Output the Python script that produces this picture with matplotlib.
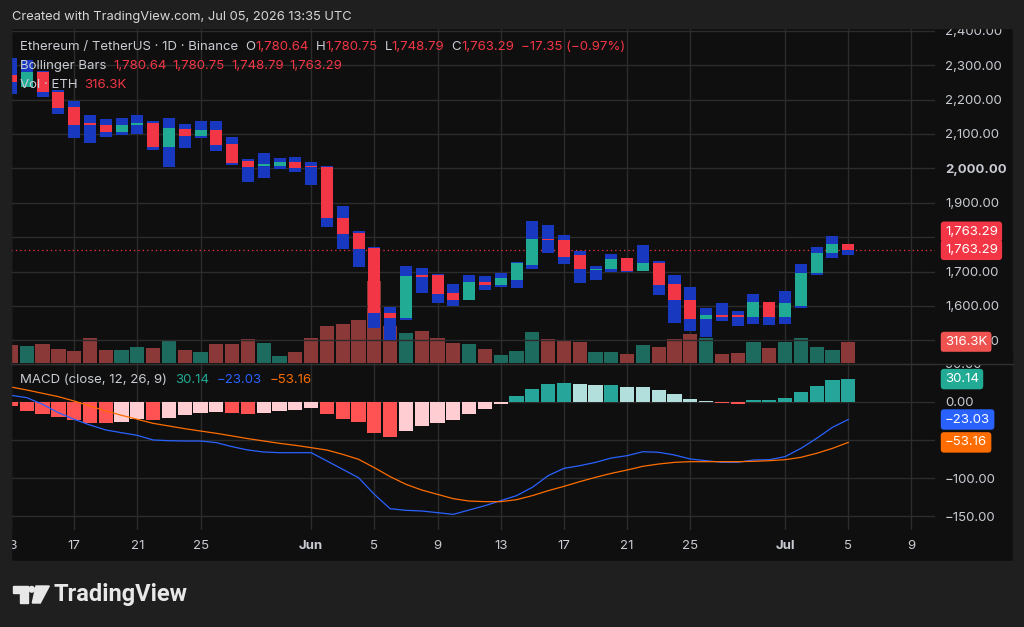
import matplotlib
matplotlib.use("Agg")
import matplotlib.pyplot as plt
import matplotlib.dates as mdates
from matplotlib.patches import Rectangle, Polygon, Circle
import numpy as np
import pandas as pd

W, H = 1024, 627
FONT = ["Inter", "DejaVu Sans"]
plt.rcParams["font.family"] = FONT

# ---- data: ETH/USDT daily, May 13 .. Jul 5 2026 ----
days = pd.date_range("2026-05-13", "2026-07-05", freq="D")

open_ = [2271, 2237, 2280, 2222, 2178, 2131, 2126, 2106, 2127, 2132,
         2062, 2115, 2094, 2112, 2071, 2022, 2008, 2007, 2019, 2007,
         2004, 1856, 1812, 1770, 1580, 1565, 1689, 1690, 1638, 1617,
         1670, 1661, 1676, 1719, 1796, 1792, 1748, 1704, 1708, 1740,
         1702, 1725, 1664, 1617, 1562, 1574, 1573, 1568, 1612, 1568,
         1600, 1696, 1754, 1780.64]
high = [2321, 2315, 2282, 2228, 2196, 2155, 2144, 2147, 2155, 2138,
        2147, 2129, 2138, 2138, 2091, 2027, 2045, 2030, 2033, 2019,
        2007, 1891, 1818, 1772, 1597, 1716, 1710, 1693, 1664, 1690,
        1687, 1696, 1728, 1847, 1835, 1806, 1760, 1716, 1751, 1740,
        1777, 1731, 1690, 1655, 1594, 1609, 1585, 1635, 1612, 1644,
        1722, 1772, 1803, 1780.75]
low = [2215, 2237, 2207, 2158, 2088, 2074, 2091, 2097, 2100, 2053,
       2004, 2059, 2088, 2051, 2010, 1960, 1972, 1998, 1990, 1952,
       1830, 1766, 1713, 1536, 1501, 1559, 1638, 1609, 1600, 1617,
       1647, 1655, 1652, 1708, 1754, 1722, 1667, 1676, 1699, 1699,
       1702, 1632, 1551, 1527, 1510, 1556, 1542, 1548, 1545, 1548,
       1594, 1690, 1740, 1748.79]
close = [2252, 2280, 2222, 2176, 2126, 2127, 2106, 2126, 2131, 2062,
         2117, 2094, 2112, 2068, 2016, 2004, 2012, 2019, 2001, 2003,
         1856, 1809, 1766, 1580, 1565, 1687, 1684, 1635, 1617, 1670,
         1661, 1681, 1725, 1795, 1791, 1742, 1708, 1708, 1737, 1702,
         1725, 1661, 1617, 1562, 1574, 1569, 1568, 1612, 1568, 1609,
         1696, 1754, 1780, 1763.29]
volume_k = [271, 256, 286, 211, 181, 377, 196, 196, 241, 226,
            346, 196, 166, 286, 286, 361, 301, 105, 166, 377,
            557, 587, 648, 1235, 557, 452, 482, 377, 301, 286,
            211, 120, 181, 467, 361, 346, 316, 166, 166, 136,
            271, 241, 361, 437, 377, 136, 151, 316, 226, 316,
            377, 241, 196, 316.3]
macd_hist = [-5.3, -11.8, -15.4, -19.7, -24, -27, -27.5, -26, -22.8, -24,
             -20.6, -17.5, -14, -12.7, -15, -15.5, -14, -12.3, -11, -8.3,
             -16.2, -22, -26.3, -40.4, -46, -38, -31.6, -27, -23.7, -15.4,
             -8.8, -2.2, 7.5, 17.5, 23.7, 25.4, 23.2, 21.9, 22.4, 20.2,
             20.0, 16.2, 11, 3.5, 0.9, -1.3, -2.2, 2.2, 2.4, 5.7,
             13.2, 21.5, 28.5, 30.14]
macd_line = [8.8, 5.7, -3.1, -14, -22.8, -30.3, -36.8, -40.4, -43.9, -50,
             -50.9, -51.3, -51.3, -53.5, -58.8, -63.2, -65.8, -66.7, -66.7, -66.7,
             -77.6, -88.6, -99.6, -121.5, -140.4, -142.5, -143.4, -145.6, -147.8, -142.1,
             -136.4, -129.8, -123.2, -112.3, -96.9, -87.3, -83.8, -79.4, -73.7, -70.6,
             -65.4, -66.2, -69.7, -75, -77.2, -79.4, -79.4, -76.3, -75.9, -71.9,
             -61, -47.8, -33.3, -23.03]
signal_line = [19.7, 15.8, 11.4, 7.0, 1.3, -5.3, -11.8, -17.5, -22.8, -28.1,
               -31.6, -35.1, -38.2, -41.2, -44.7, -48.2, -51.3, -54.4, -57, -60.1,
               -63.2, -68.9, -75.4, -86.4, -98.2, -108.3, -115.8, -121.5, -127.2, -130.3,
               -131.1, -131.1, -128.5, -123.2, -116.7, -111, -104.8, -99.1, -93.9, -89.5,
               -84.6, -81.6, -79.4, -78.5, -78.5, -78.5, -78.5, -78.1, -77.2, -75.9,
               -72.8, -67.5, -61, -53.16]

date_ticks = ["2026-05-13", "2026-05-17", "2026-05-21", "2026-05-25", "2026-06-01",
              "2026-06-05", "2026-06-09", "2026-06-13", "2026-06-17", "2026-06-21",
              "2026-06-25", "2026-07-01", "2026-07-05", "2026-07-09"]
date_labels = ["13", "17", "21", "25", "Jun", "5", "9", "13", "17", "21", "25", "Jul", "5", "9"]
price_ticks = [1500, 1600, 1700, 1800, 1900, 2000, 2100, 2200, 2300, 2400]
price_hidden = [1800]          # sits under the last-price tags
macd_ticks = [50, 0, -50, -100, -150]
macd_hidden = [-50]            # sits under the signal tag

# ---- colours ----
FRAME = "#1f1f1f"
PANEL = "#0f0f0f"
GRID = "#2c2c2c"
TXT = "#c9ccd3"
RED = "#f23645"
GREEN = "#22ab94"
BLUE_BAR = "#1838c0"
VOL_UP = "#1d6a5f"
VOL_DN = "#8a3838"
MACD_BLUE = "#2962ff"
SIG_ORANGE = "#ff6d00"


def rect(x0, y0, x1, y1):
    return [x0 / W, 1 - y1 / H, (x1 - x0) / W, (y1 - y0) / H]


def neg(s):
    return s.replace("-", "\u2212")


x = mdates.date2num(days)
o, h, l, c = map(np.array, (open_, high, low, close))
up = c >= o

fig = plt.figure(figsize=(W / 100, H / 100), dpi=100, facecolor=FRAME)

bg = fig.add_axes([0, 0, 1, 1])
bg.set_xlim(0, W)
bg.set_ylim(H, 0)
bg.axis("off")
bg.add_patch(Rectangle((11, 28), 1002, 533, color=PANEL))

ax_vol = fig.add_axes(rect(11, 28, 935, 363), facecolor="none")
ax = fig.add_axes(rect(11, 28, 935, 363), sharex=ax_vol, facecolor="none")
ax_m = fig.add_axes(rect(11, 363, 935, 530), sharex=ax_vol, facecolor="none")

# volume (behind candles)
ax_vol.bar(x, volume_k, width=0.9, color=np.where(up, VOL_UP, VOL_DN), zorder=1)
ax_vol.set_ylim(0, 335 / 21 * volume_k[-1])

# bollinger-style candles: blue high-low block, coloured open-close body
ax.bar(x, h - l, bottom=l, width=0.76, color=BLUE_BAR, zorder=2)
body_lo = np.minimum(o, c)
ax.bar(x, np.maximum(np.abs(c - o), 4), bottom=body_lo, width=0.76,
       color=np.where(up, GREEN, RED), zorder=3)
ax.axhline(c[-1], color=RED, lw=0.9, ls=(0, (1, 2.5)), zorder=1)
ax.set_ylim(1434.3, 2408)

# MACD
hist = np.array(macd_hist)
prev = np.concatenate([[hist[0] + 1], hist[:-1]])
hcol = np.where(hist >= 0, np.where(hist > prev, "#26a69a", "#b2dfdb"),
                np.where(hist > prev, "#ffcdd2", "#ff5252"))
ax_m.bar(x, hist, width=0.9, color=hcol, zorder=2)
ax_m.plot(x, macd_line, color=MACD_BLUE, lw=0.9, zorder=3)
ax_m.plot(x, signal_line, color=SIG_ORANGE, lw=0.9, zorder=3)
ax_m.set_ylim(-168.4, 51.3)

# axes styling
xt = mdates.date2num(pd.to_datetime(date_ticks))
ax_m.set_xlim(x[0] + 0.19, x[0] + 58.49)
ax_m.set_xticks(xt)
ax_m.set_xticklabels(date_labels)
for t in ax_m.get_xticklabels():
    if t.get_text() in ("Jun", "Jul"):
        t.set_fontweight("bold")

for a in (ax_vol, ax, ax_m):
    for s in a.spines.values():
        s.set_visible(False)
    a.tick_params(length=0, colors=TXT, labelsize=9.5)
    a.set_axisbelow(True)

ax_vol.set_yticks([])
ax_vol.tick_params(labelbottom=False)
ax_vol.grid(axis="x", color=GRID, lw=1)
ax.tick_params(labelbottom=False, labelleft=False, labelright=True, pad=7.2)
ax.yaxis.tick_right()
ax.set_yticks(price_ticks)
ax.set_yticklabels(["" if v in price_hidden else f"{v:,.2f}" for v in price_ticks])
for t in ax.get_yticklabels():
    if t.get_text() == "2,000.00":
        t.set_fontweight("bold")
ax.grid(axis="y", color=GRID, lw=1)

ax_m.yaxis.tick_right()
ax_m.tick_params(labelleft=False, labelright=True, pad=7.2)
ax_m.tick_params(axis="x", pad=7.5)
ax_m.set_yticks(macd_ticks)
ax_m.set_yticklabels(["" if v in macd_hidden else neg(f"{v:.2f}") for v in macd_ticks])
ax_m.grid(color=GRID, lw=1)


# right-hand value tags (drawn from the top axes so they cover tick labels)
def tag(a, ref, yval, text, color, dy=0):
    a.annotate(text, xy=(1.0, yval), xycoords=ref.get_yaxis_transform(),
               xytext=(7.2, dy), textcoords="offset points", ha="left", va="center",
               fontsize=9.5, color="white", annotation_clip=False, zorder=10,
               bbox=dict(boxstyle="round,pad=0.32,rounding_size=0.25", fc=color, ec="none"))


tag(ax, ax, c[-1], f"{c[-1]:,.2f}", RED, dy=13)
tag(ax, ax, c[-1], f"{c[-1]:,.2f}", RED)
tag(ax, ax_vol, volume_k[-1], f"{volume_k[-1]:.1f}K", "#ef5350")
tag(ax_m, ax_m, macd_hist[-1], f"{macd_hist[-1]:.2f}", GREEN)
tag(ax_m, ax_m, macd_line[-1], neg(f"{macd_line[-1]:.2f}"), MACD_BLUE)
tag(ax_m, ax_m, signal_line[-1], neg(f"{signal_line[-1]:.2f}"), SIG_ORANGE)

# frame covers (clip labels that run off panels) + logo
ov = fig.add_axes([0, 0, 1, 1], facecolor="none")
ov.set_xlim(0, W)
ov.set_ylim(H, 0)
ov.axis("off")
for r in [(0, 0, W, 28), (0, 0, 11, H), (1013, 0, 11, H), (0, 561, W, 66)]:
    ov.add_patch(Rectangle(r[:2], r[2], r[3], color=FRAME, zorder=1))
ov.add_patch(Rectangle((936, 352), 76, 11.5, color=PANEL, zorder=1))
ov.plot([11, 1013], [363.5, 363.5], color="#303030", lw=1, zorder=2)
logo = "#e8e8e8"
ov.add_patch(Polygon([(12.5, 586), (27.7, 586), (27.7, 603), (20, 603), (20, 593), (12.5, 593)],
                     closed=True, color=logo, zorder=3))
ov.add_patch(Circle((31.7, 589.3), 2.8, color=logo, zorder=3))
ov.add_patch(Polygon([(36, 586), (49.3, 586), (40.3, 603), (32.3, 603)], closed=True,
                     color=logo, zorder=3))

fig.text(12 / W, 1 - 17 / H, "Created with TradingView.com, Jul 05, 2026 13:35 UTC",
         color="#d6d6d6", fontsize=9.3, va="center", ha="left")
fig.text(54 / W, 1 - 594 / H, "TradingView", color=logo, fontsize=17,
         fontweight="bold", family=["Roboto", "DejaVu Sans"], va="center", ha="left")

renderer = fig.canvas.get_renderer()


def chain(x0, y0, parts, size=9.5):
    xx = x0
    for s, col, gap in parts:
        t = fig.text(xx / W, 1 - y0 / H, s, color=col, fontsize=size, va="center", ha="left")
        xx = t.get_window_extent(renderer).x1 + gap


def f2(v):
    return f"{v:,.2f}"


chg = c[-1] - o[-1]
chain(20, 47, [("Ethereum / TetherUS \u00b7 1D \u00b7 Binance", TXT, 7),
               ("O", TXT, 0), (f2(o[-1]), RED, 7),
               ("H", TXT, 0), (f2(h[-1]), RED, 7),
               ("L", TXT, 0), (f2(l[-1]), RED, 7),
               ("C", TXT, 0), (f2(c[-1]), RED, 7),
               (neg(f"{chg:.2f} ({chg / o[-1] * 100:.2f}%)"), RED, 0)])
chain(20, 66, [("Bollinger Bars", TXT, 7), (f2(o[-1]), RED, 6), (f2(h[-1]), RED, 6),
               (f2(l[-1]), RED, 6), (f2(c[-1]), RED, 0)])
chain(20, 85, [("Vol \u00b7 ETH", TXT, 7), (f"{volume_k[-1]:.1f}K", RED, 0)])
chain(20, 380, [("MACD (close, 12, 26, 9)", TXT, 8), (f"{macd_hist[-1]:.2f}", GREEN, 8),
                (neg(f"{macd_line[-1]:.2f}"), MACD_BLUE, 8),
                (neg(f"{signal_line[-1]:.2f}"), SIG_ORANGE, 0)])

fig.savefig("out.png", dpi=100, facecolor=FRAME)
